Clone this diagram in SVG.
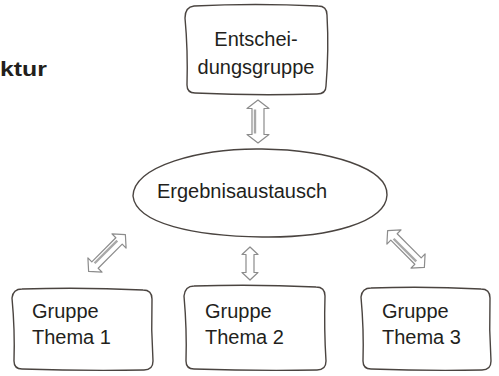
<svg xmlns="http://www.w3.org/2000/svg" width="499" height="376" viewBox="0 0 499 376">
<style>
.shape{fill:none;stroke:#4a4440;stroke-width:1.4;stroke-linejoin:round}
.lbl{font-family:"Liberation Sans",Arial,sans-serif;font-size:20px;fill:#231f1c}
.arr{fill:#fff;stroke:#8c8c8c;stroke-width:1.2;stroke-linejoin:round}
.arrin{fill:none;stroke:#a8a8a8;stroke-width:2.4}
</style>
<rect width="499" height="376" fill="#fff"/>
<text x="0" y="76" font-family="Liberation Sans,Arial,sans-serif" font-size="21" font-weight="bold" fill="#231f1c" textLength="47" lengthAdjust="spacingAndGlyphs">ktur</text>
<g id="connectors">
  <g transform="translate(258,121.5) rotate(90)">
    <path class="arr" d="M-21.5,0 L-13,-11 L-13,-6 L13,-6 L13,-11 L21.5,0 L13,11 L13,6 L-13,6 L-13,11 Z"/>
    <line class="arrin" x1="-12" y1="3" x2="12" y2="3"/>
  </g>
  <g transform="translate(107,253) rotate(-45)">
    <path class="arr" d="M-26,0 L-17,-10 L-17,-4.5 L17,-4.5 L17,-10 L26,0 L17,10 L17,4.5 L-17,4.5 L-17,10 Z"/>
    <line class="arrin" x1="-16" y1="-1.5" x2="16" y2="-1.5"/>
  </g>
  <g transform="translate(250,263.5) rotate(90)">
    <path class="arr" d="M-16.5,0 L-9,-8 L-9,-4 L9,-4 L9,-8 L16.5,0 L9,8 L9,4 L-9,4 L-9,8 Z"/>
  </g>
  <g transform="translate(406,249) rotate(45)">
    <path class="arr" d="M-26,0 L-17,-10 L-17,-4.5 L17,-4.5 L17,-10 L26,0 L17,10 L17,4.5 L-17,4.5 L-17,10 Z"/>
    <line class="arrin" x1="-16" y1="1.5" x2="16" y2="1.5"/>
  </g>
</g>
<g id="entscheidungsgruppe">
  <path class="shape" d="M194,6 Q255,3 318,6 Q327,6 327,15 Q329,50 326,86 Q326,94 317,94 Q256,96 195,93 Q187,93 187,85 Q188,50 185,18 Q185,7 194,6 Z"/>
  <text class="lbl" x="256" y="46" text-anchor="middle">Entschei-</text>
  <text class="lbl" x="256" y="74" text-anchor="middle">dungsgruppe</text>
</g>
<g id="ergebnisaustausch">
  <path class="shape" d="M133,196 C134,166 200,148 262,149 C330,150 388,168 387,195 C386,222 330,238 262,237 C195,236 136,224 133,196 Z"/>
  <text class="lbl" x="157" y="198">Ergebnisaustausch</text>
</g>
<g id="thema1">
  <path class="shape" d="M22,289 Q82,287 143,290 Q152,290 152,299 Q151,330 153,361 Q153,370 144,370 Q83,371 22,369 Q14,369 14,361 Q15,330 12,298 Q13,289 22,289 Z"/>
  <text class="lbl" x="32" y="318">Gruppe</text>
  <text class="lbl" x="32" y="344">Thema 1</text>
</g>
<g id="thema2">
  <path class="shape" d="M194,286 Q255,284 316,287 Q325,287 325,296 Q324,330 326,361 Q326,370 317,370 Q256,371 194,369 Q186,369 186,361 Q187,330 184,296 Q185,286 194,286 Z"/>
  <text class="lbl" x="205" y="318">Gruppe</text>
  <text class="lbl" x="205" y="344">Thema 2</text>
</g>
<g id="thema3">
  <path class="shape" d="M371,288 Q425,286 481,289 Q490,289 490,298 Q489,330 491,361 Q491,370 482,370 Q427,371 371,369 Q363,369 363,361 Q364,330 361,297 Q362,288 371,288 Z"/>
  <text class="lbl" x="382" y="318">Gruppe</text>
  <text class="lbl" x="382" y="344">Thema 3</text>
</g>
</svg>
